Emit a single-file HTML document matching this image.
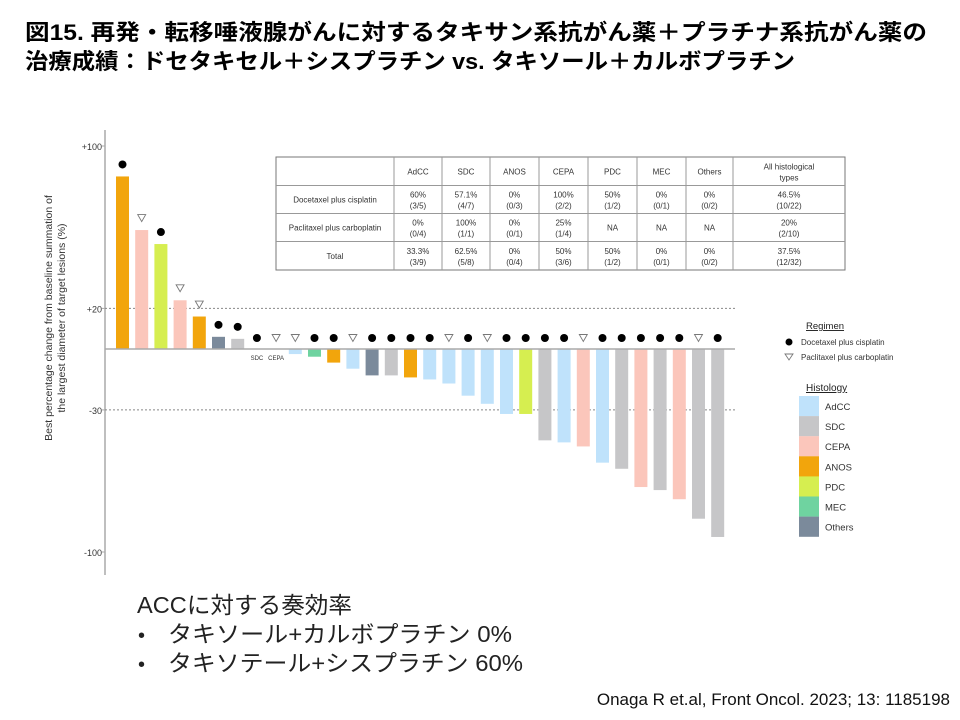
<!DOCTYPE html>
<html><head><meta charset="utf-8">
<style>
body{margin:0;background:#fff;width:960px;height:720px;overflow:hidden;font-family:"Liberation Sans","Noto Sans CJK JP",sans-serif;}
svg{position:absolute;left:0;top:0}
</style></head>
<body>
<svg id="chart" width="960" height="720" viewBox="0 0 960 720">
  <text x="25" y="40" font-size="22" font-weight="bold" textLength="902" lengthAdjust="spacingAndGlyphs" font-family="'Liberation Sans','Noto Sans CJK JP',sans-serif">図15. 再発・転移唾液腺がんに対するタキサン系抗がん薬＋プラチナ系抗がん薬の</text>
  <text x="25" y="69" font-size="22" font-weight="bold" textLength="770" lengthAdjust="spacingAndGlyphs" font-family="'Liberation Sans','Noto Sans CJK JP',sans-serif">治療成績：ドセタキセル＋シスプラチン vs. タキソール＋カルボプラチン</text>
  <g id="plot"></g>
  <g id="table"></g>
  <g id="legend"></g>
  <text x="137" y="613" font-size="23" fill="#222" textLength="215" lengthAdjust="spacingAndGlyphs" font-family="'Liberation Sans','Noto Sans CJK JP',sans-serif">ACCに対する奏効率</text>
  <text x="138" y="642" font-size="20" fill="#222">•</text>
  <text x="168" y="642" font-size="23" fill="#222" textLength="344" lengthAdjust="spacingAndGlyphs" font-family="'Liberation Sans','Noto Sans CJK JP',sans-serif">タキソール+カルボプラチン 0%</text>
  <text x="138" y="671" font-size="20" fill="#222">•</text>
  <text x="168" y="671" font-size="23" fill="#222" textLength="355" lengthAdjust="spacingAndGlyphs" font-family="'Liberation Sans','Noto Sans CJK JP',sans-serif">タキソテール+シスプラチン 60%</text>
  <text x="950" y="705" font-size="17" text-anchor="end" fill="#111">Onaga R et.al, Front Oncol. 2023; 13: 1185198</text>
</svg>
<script>
const histology = ["ANOS","CEPA","PDC","CEPA","ANOS","Others","SDC","SDC","CEPA","AdCC","MEC","ANOS","AdCC","Others","SDC","ANOS","AdCC","AdCC","AdCC","AdCC","AdCC","PDC","SDC","AdCC","CEPA","AdCC","SDC","CEPA","SDC","CEPA","SDC","SDC"];
const values = [85,58.6,51.7,24,16,6,5,0,0,-2.5,-3.8,-6.7,-9.7,-13,-13,-14,-15,-17,-23,-27,-32,-32,-45,-46,-48,-56,-59,-68,-69.5,-74,-83.6,-92.6];
const regimen = ["D","P","D","P","P","D","D","D","P","P","D","D","P","D","D","D","D","P","D","P","D","D","D","D","P","D","D","D","D","D","P","D"];
const zeroLabels = ["","","","","","","","SDC","CEPA"];
const yTicks = [100,20,-30,-100];
const yTickLabels = ["+100","+20","-30","-100"];
const dashedAt = [20,-30];
const colors = {AdCC:"#bfe2fb",SDC:"#c6c6c8",CEPA:"#fbc6bb",ANOS:"#f2a50c",PDC:"#d6ee50",MEC:"#6fd3a0",Others:"#7b8a9b"};
const legendCats = ["AdCC","SDC","CEPA","ANOS","PDC","MEC","Others"];
const tableHead = ["","AdCC","SDC","ANOS","CEPA","PDC","MEC","Others","All histological|types"];
const tableRow1 = ["Docetaxel plus cisplatin","60%|(3/5)","57.1%|(4/7)","0%|(0/3)","100%|(2/2)","50%|(1/2)","0%|(0/1)","0%|(0/2)","46.5%|(10/22)"];
const tableRow2 = ["Paclitaxel plus carboplatin","0%|(0/4)","100%|(1/1)","0%|(0/1)","25%|(1/4)","NA","NA","NA","20%|(2/10)"];
const tableRow3 = ["Total","33.3%|(3/9)","62.5%|(5/8)","0%|(0/4)","50%|(3/6)","50%|(1/2)","0%|(0/1)","0%|(0/2)","37.5%|(12/32)"];

const NS="http://www.w3.org/2000/svg";
function mk(tag,attrs,parent){const e=document.createElementNS(NS,tag);for(const k in attrs)e.setAttribute(k,attrs[k]);parent.appendChild(e);return e;}
const y0=349, k=2.03;
const yS=v=>y0-v*k;
const x0=122.5, step=19.2, bw=13;
const xS=i=>x0+i*step;
const plot=document.getElementById('plot');

let ax=mk('line',{x1:105,y1:130,x2:105,y2:575,stroke:'#aaa','stroke-width':1.5},plot);


dashedAt.forEach(v=>{
  const l=mk('line',{x1:105,x2:735,y1:yS(v),y2:yS(v),stroke:'#888','stroke-width':1,'stroke-dasharray':'2,2'},plot);
  
  
});
yTicks.forEach((v,i)=>{
  const t=mk('text',{x:102,y:yS(v)+4,'font-size':9,'text-anchor':'end',fill:'#333'},plot);
  t.textContent=yTickLabels[i];
  
  
  mk('line',{x1:102,x2:105,y1:yS(v),y2:yS(v),stroke:'#aaa'},plot);
});
const yt=mk('text',{transform:'translate(52,318) rotate(-90)','font-size':10.5,'text-anchor':'middle',fill:'#333'},plot);


yt.innerHTML='<tspan x="0" y="0">Best percentage change from baseline summation of</tspan><tspan x="0" y="13">the largest diameter of target lesions (%)</tspan>';

values.forEach((v,i)=>{
  const x=xS(i);
  const top=Math.min(yS(v),y0), h=Math.abs(yS(v)-y0);
  if(h>0){
    const r=mk('rect',{x:x-bw/2,y:top,width:bw,height:h,fill:colors[histology[i]]},plot);
    
    
  }
  const my = v>0 ? yS(v)-12 : 338;
  let m;
  if(regimen[i]==='D'){m=mk('circle',{cx:x,cy:my,r:4,fill:'#000'},plot);}
  else{m=mk('path',{d:`M${x-4},${my-3.5} L${x+4},${my-3.5} L${x},${my+3.5} Z`,fill:'none',stroke:'#777','stroke-width':0.9},plot);}
  
  
  if(zeroLabels[i]){
    const t=mk('text',{x:x,y:360,'font-size':6,'text-anchor':'middle',fill:'#333'},plot);
    t.textContent=zeroLabels[i];
    
    
  }
});
const zl=mk('line',{x1:105,x2:735,y1:y0,y2:y0,stroke:'#aaa','stroke-width':1.5},plot);



const tb=document.getElementById('table');
const cols=[276,394,442,490,539,588,637,686,733,845];
const rows=[157,185.5,213.5,241.5,270];
mk('rect',{x:276,y:157,width:569,height:113,fill:'#fff',stroke:'#777','stroke-width':1},tb);
cols.slice(1,-1).forEach(c=>mk('line',{x1:c,x2:c,y1:157,y2:270,stroke:'#999'},tb));
rows.slice(1,-1).forEach(r=>mk('line',{x1:276,x2:845,y1:r,y2:r,stroke:'#999'},tb));
[tableHead,tableRow1,tableRow2,tableRow3].forEach((row,ri)=>{
  row.forEach((cell,ci)=>{
    if(!cell)return;
    const cx=(cols[ci]+cols[ci+1])/2, cy=(rows[ri]+rows[ri+1])/2;
    const parts=cell.split('|');
    const t=mk('text',{'font-size':8,'text-anchor':'middle',fill:'#333'},tb);
    
    
    if(parts.length===1){t.setAttribute('x',cx);t.setAttribute('y',cy+3);t.textContent=parts[0];}
    else parts.forEach((p,pi)=>{const s=mk('tspan',{x:cx,y:cy-2+pi*11},t);s.textContent=p;});
  });
});

const lg=document.getElementById('legend');
const lt=mk('text',{x:806,y:329,'font-size':9.5,fill:'#222','text-decoration':'underline'},lg);lt.textContent='Regimen';


mk('circle',{cx:789,cy:342,r:3.5,fill:'#000'},lg);
let e1=mk('text',{x:801,y:345,'font-size':8,fill:'#333'},lg);e1.textContent='Docetaxel plus cisplatin';


mk('path',{d:'M785,354 L793,354 L789,360 Z',fill:'none',stroke:'#777','stroke-width':0.9},lg);
let e2=mk('text',{x:801,y:360,'font-size':8,fill:'#333'},lg);e2.textContent='Paclitaxel plus carboplatin';


const ht=mk('text',{x:806,y:391,'font-size':10,fill:'#222','text-decoration':'underline'},lg);ht.textContent='Histology';


legendCats.forEach((c,i)=>{
  const y=396+i*20.1;
  const r=mk('rect',{x:799,y:y,width:20,height:20.2,fill:colors[c]},lg);
  
  
  const t=mk('text',{x:825,y:y+14,'font-size':9.5,fill:'#333'},lg);t.textContent=c;
  
  
});
</script>
</body></html>
